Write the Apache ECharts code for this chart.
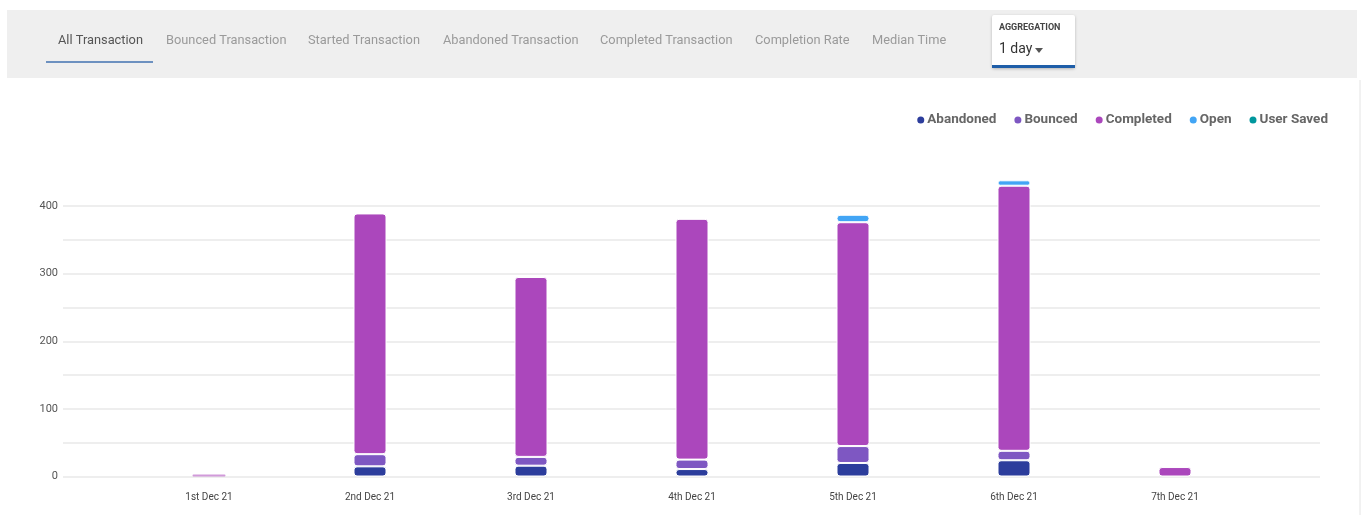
<!DOCTYPE html>
<html>
<head>
<meta charset="utf-8">
<script src="https://cdn.jsdelivr.net/npm/echarts@6/dist/echarts.min.js"></script>
<style>
  html, body { margin: 0; padding: 0; background: #fff; }
  #chart { width: 1367px; height: 515px; }
</style>
</head>
<body>
<div id="chart"></div>
<script>
// 数据
const days = ['1st Dec 21', '2nd Dec 21', '3rd Dec 21', '4th Dec 21', '5th Dec 21', '6th Dec 21', '7th Dec 21'];
const abandoned = [0, 15, 16, 11, 20, 24, 0];
const bounced = [0, 18, 13, 14, 25, 14, 0];
const completed = [3, 356, 266, 356, 331, 392, 14];
const open = [0, 0, 0, 0, 11, 8, 0];
const userSaved = [0, 0, 0, 0, 0, 0, 0];
const tabs = ['All Transaction', 'Bounced Transaction', 'Started Transaction', 'Abandoned Transaction',
    'Completed Transaction', 'Completion Rate', 'Median Time'];
const tabX = [58, 166, 308, 443, 600, 755, 872];

const colors = ['#2c3d9c', '#7e57c2', '#ab47bc', '#42a5f5', '#00979d'];
const font = 'Roboto, "Noto Sans", sans-serif';

let chart = echarts.init(document.getElementById('chart'));

function bar(name, data) {
    return {
        name: name,
        type: 'bar',
        stack: 'total',
        xAxisIndex: 1,
        yAxisIndex: 1,
        barWidth: 33,
        itemStyle: {
            borderColor: '#fff',
            borderWidth: 1,
            borderRadius: 3
        },
        // 0 值不画, 很小的值去掉白边
        data: data.map(function (v) {
            if (v === 0) return '-';
            if (v < 5) return { value: v, itemStyle: { borderWidth: 0, opacity: 0.55 } };
            return v;
        })
    };
}

// 顶部标签栏
let graphics = [
    { type: 'rect', shape: { x: 7, y: 10, width: 1350, height: 68 }, style: { fill: '#efefef' }, z: 0 },
    { type: 'line', shape: { x1: 1360, y1: 80, x2: 1360, y2: 515 }, style: { stroke: '#e4e4e4', lineWidth: 1 } },
    { type: 'rect', shape: { x: 46, y: 61, width: 107, height: 2 }, style: { fill: '#6d91c0' } },
    {
        type: 'rect', shape: { x: 992, y: 15, width: 83, height: 53, r: 2 },
        style: { fill: '#fff', shadowBlur: 3, shadowColor: 'rgba(0,0,0,0.25)', shadowOffsetY: 1 }
    },
    { type: 'rect', shape: { x: 992, y: 65, width: 83, height: 3 }, style: { fill: '#1f5ea8' } },
    {
        type: 'text', x: 999, y: 28,
        style: { text: 'AGGREGATION', font: 'bold 9px ' + font, fill: '#444', textVerticalAlign: 'middle' }
    },
    {
        type: 'text', x: 999, y: 49.5,
        style: { text: '1 day', font: '14px ' + font, fill: '#333', textVerticalAlign: 'middle' }
    },
    { type: 'polygon', shape: { points: [[1035, 48], [1043, 48], [1039, 53]] }, style: { fill: '#555' } }
];
tabs.forEach(function (t, i) {
    graphics.push({
        type: 'text', x: tabX[i], y: 41,
        style: {
            text: t, font: '12.8px ' + font,
            fill: i === 0 ? '#555' : '#9a9a9a', textVerticalAlign: 'middle'
        }
    });
});

let option = {
    animation: false,
    color: colors,
    textStyle: { fontFamily: font },
    graphic: graphics,
    legend: {
        right: 34,
        top: 108,
        icon: 'circle',
        itemWidth: 9,
        itemHeight: 9,
        itemGap: 16,
        textStyle: {
            fontWeight: 'bold', fontSize: 13.5, color: '#666', fontFamily: font,
            padding: [0, 0, 0, -3]
        },
        data: ['Abandoned', 'Bounced', 'Completed', 'Open', 'User Saved']
    },
    grid: [
        { left: 63, right: 47, top: 178.95, bottom: 38.5 },
        { left: 128.5, right: 111.5, top: 178.95, bottom: 38.5 }
    ],
    xAxis: [
        { type: 'category', gridIndex: 0, data: days, show: false },
        {
            type: 'category', gridIndex: 1, data: days,
            axisLine: { show: false },
            axisTick: { alignWithLabel: true, length: 5, lineStyle: { color: '#999' } },
            axisLabel: { fontSize: 10, color: '#444', margin: 16 }
        }
    ],
    yAxis: [
        {
            type: 'value', gridIndex: 0, min: 0, max: 440, interval: 50,
            axisLine: { show: false },
            axisTick: { show: false },
            splitLine: { showMaxLine: false, lineStyle: { color: '#e8e8e8', width: 1.5 } },
            axisLabel: {
                showMaxLabel: false, fontSize: 11, color: '#555', margin: 5,
                formatter: function (v) { return v % 100 === 0 ? v : ''; }
            }
        },
        { type: 'value', gridIndex: 1, min: 0, max: 440, show: false }
    ],
    series: [
        bar('Abandoned', abandoned),
        bar('Bounced', bounced),
        bar('Completed', completed),
        bar('Open', open),
        bar('User Saved', userSaved)
    ]
};

chart.setOption(option);
</script>
</body>
</html>
